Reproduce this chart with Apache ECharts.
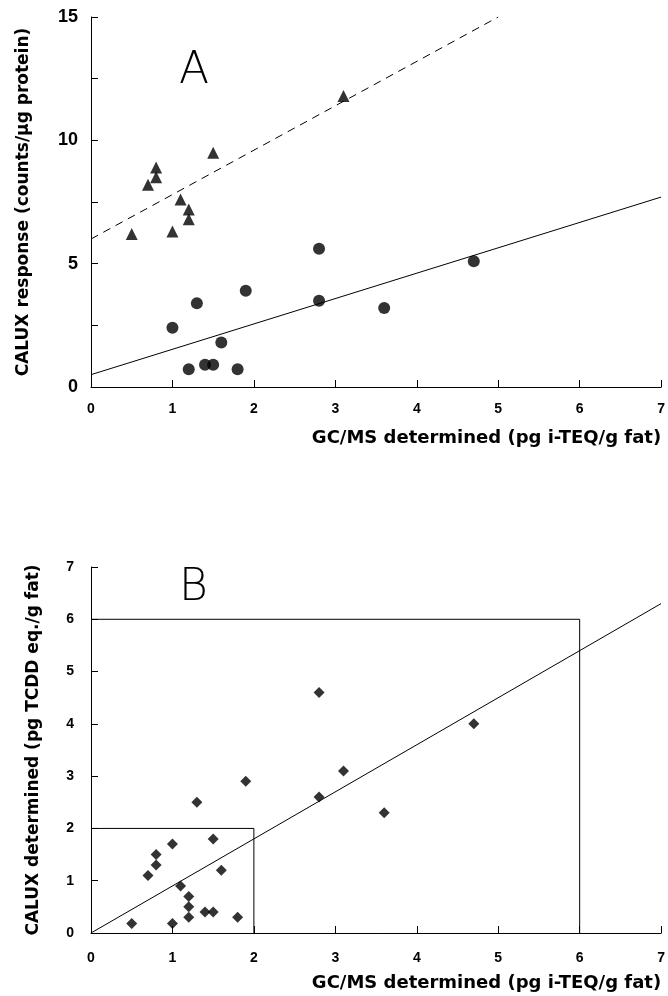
<!DOCTYPE html>
<html><head><meta charset="utf-8">
<script src="https://cdn.jsdelivr.net/npm/echarts@6/dist/echarts.min.js"></script>
<style>html,body{margin:0;padding:0;background:#fff}#c{width:668px;height:996px}</style>
</head><body><div id="c"></div>
<script>
// Panel A data
const circlesA = [[1.0,2.4],[1.3,3.4],[1.9,3.9],[2.8,5.6],[2.8,3.5],[1.6,1.8],[1.2,0.72],[1.4,0.9],[1.5,0.9],[1.8,0.72],[3.6,3.2],[4.7,5.1]];
const trianglesA = [[0.5,6.2],[0.7,8.2],[0.8,8.5],[0.8,8.9],[1.1,7.6],[1.2,7.2],[1.2,6.8],[1.0,6.3],[1.5,9.5],[3.1,11.8]];
const fitSolidA = [[0,0.5],[7,7.7]];
const fitDashedA = [[0,6.0],[5,15]];
// Panel B data
const diamondsB = [[0.5,0.18],[1.0,0.18],[0.7,1.1],[0.8,1.3],[0.8,1.5],[1.0,1.7],[1.1,0.9],[1.2,0.7],[1.2,0.5],[1.2,0.3],[1.4,0.4],[1.5,0.4],[1.8,0.3],[1.5,1.8],[1.6,1.2],[1.3,2.5],[1.9,2.9],[2.8,4.6],[2.8,2.6],[3.1,3.1],[3.6,2.3],[4.7,4.0]];
const fitB = [[0,0],[7,6.3]];
const box2 = [[0,2],[2,2],[2,0]];
const box6 = [[0,6],[6,6],[6,0]];
const xTicks = [0,1,2,3,4,5,6,7];
const yTicksA = [0,5,10,15];
const yTicksB = [0,1,2,3,4,5,6,7];

const FONT = 'Liberation Sans, Arial, sans-serif';
const NAMEFONT = 'DejaVu Sans';
const axisCommon = {
  axisLine:{show:true,lineStyle:{color:'#000',width:1}},
  axisTick:{show:true,inside:true,length:7,lineStyle:{color:'#000'}},
  splitLine:{show:false},
  axisLabel:{color:'#000',fontFamily:FONT,fontWeight:'bold',fontSize:14}
};
function xAxis(gi, margin, pad){
  return Object.assign({}, axisCommon, {
    type:'value', gridIndex:gi, min:0, max:7, interval:1,
    axisLabel:Object.assign({}, axisCommon.axisLabel,{margin:margin,formatter:v=>xTicks.includes(v)?String(v):''}),
    name:'GC/MS determined (pg i-TEQ/g fat)', nameLocation:'end', nameGap:0,
    nameTextStyle:{color:'#000',fontFamily:NAMEFONT,fontWeight:'bold',fontSize:18,align:'right',verticalAlign:'top',padding:[pad,0,0,0]}
  });
}
const option = {
  animation:false,
  grid:[{left:91,right:5,top:17,height:370},{left:91,right:5,top:567,height:366}],
  xAxis:[xAxis(0,15,42), xAxis(1,18,41)],
  yAxis:[
    Object.assign({}, axisCommon, {type:'value',gridIndex:0,min:0,max:15,interval:2.5,
      axisLabel:Object.assign({}, axisCommon.axisLabel,{fontSize:18,margin:13,formatter:v=>yTicksA.includes(v)?String(v):''}),
      name:'CALUX response (counts/µg protein)',nameLocation:'middle',nameGap:59,
      nameTextStyle:{color:'#000',fontFamily:NAMEFONT,fontWeight:'bold',fontSize:17}}),
    Object.assign({}, axisCommon, {type:'value',gridIndex:1,min:0,max:7,interval:1,
      axisLabel:Object.assign({}, axisCommon.axisLabel,{margin:17,formatter:v=>yTicksB.includes(v)?String(v):''}),
      name:'CALUX determined (pg TCDD eq./g fat)',nameLocation:'middle',nameGap:49,
      nameTextStyle:{color:'#000',fontFamily:NAMEFONT,fontWeight:'bold',fontSize:17}})
  ],
  graphic:[
    {type:'text',left:179,top:50,style:{text:'A',fontFamily:'DejaVu Sans',fontWeight:200,fontSize:44,fill:'#000'}},
    {type:'text',left:179,top:567,style:{text:'B',fontFamily:'DejaVu Sans',fontWeight:200,fontSize:44,fill:'#000'}}
  ],
  series:[
    {type:'line',xAxisIndex:0,yAxisIndex:0,data:fitSolidA,symbol:'none',lineStyle:{color:'#000',width:1}},
    {type:'line',xAxisIndex:0,yAxisIndex:0,data:fitDashedA,symbol:'none',lineStyle:{color:'#000',width:1,type:[8,6]}},
    {type:'scatter',xAxisIndex:0,yAxisIndex:0,data:circlesA,symbol:'circle',symbolSize:12,itemStyle:{color:'#000'}},
    {type:'scatter',xAxisIndex:0,yAxisIndex:0,data:trianglesA,symbol:'triangle',symbolSize:12,itemStyle:{color:'#000'}},
    {type:'line',xAxisIndex:1,yAxisIndex:1,data:fitB,symbol:'none',lineStyle:{color:'#000',width:1}},
    {type:'line',xAxisIndex:1,yAxisIndex:1,data:box2,symbol:'none',lineStyle:{color:'#000',width:1}},
    {type:'line',xAxisIndex:1,yAxisIndex:1,data:box6,symbol:'none',lineStyle:{color:'#000',width:1}},
    {type:'scatter',xAxisIndex:1,yAxisIndex:1,data:diamondsB,symbol:'diamond',symbolSize:11,itemStyle:{color:'#000'}}
  ]
};
echarts.init(document.getElementById('c'),null,{renderer:'canvas'}).setOption(option);
</script></body></html>
